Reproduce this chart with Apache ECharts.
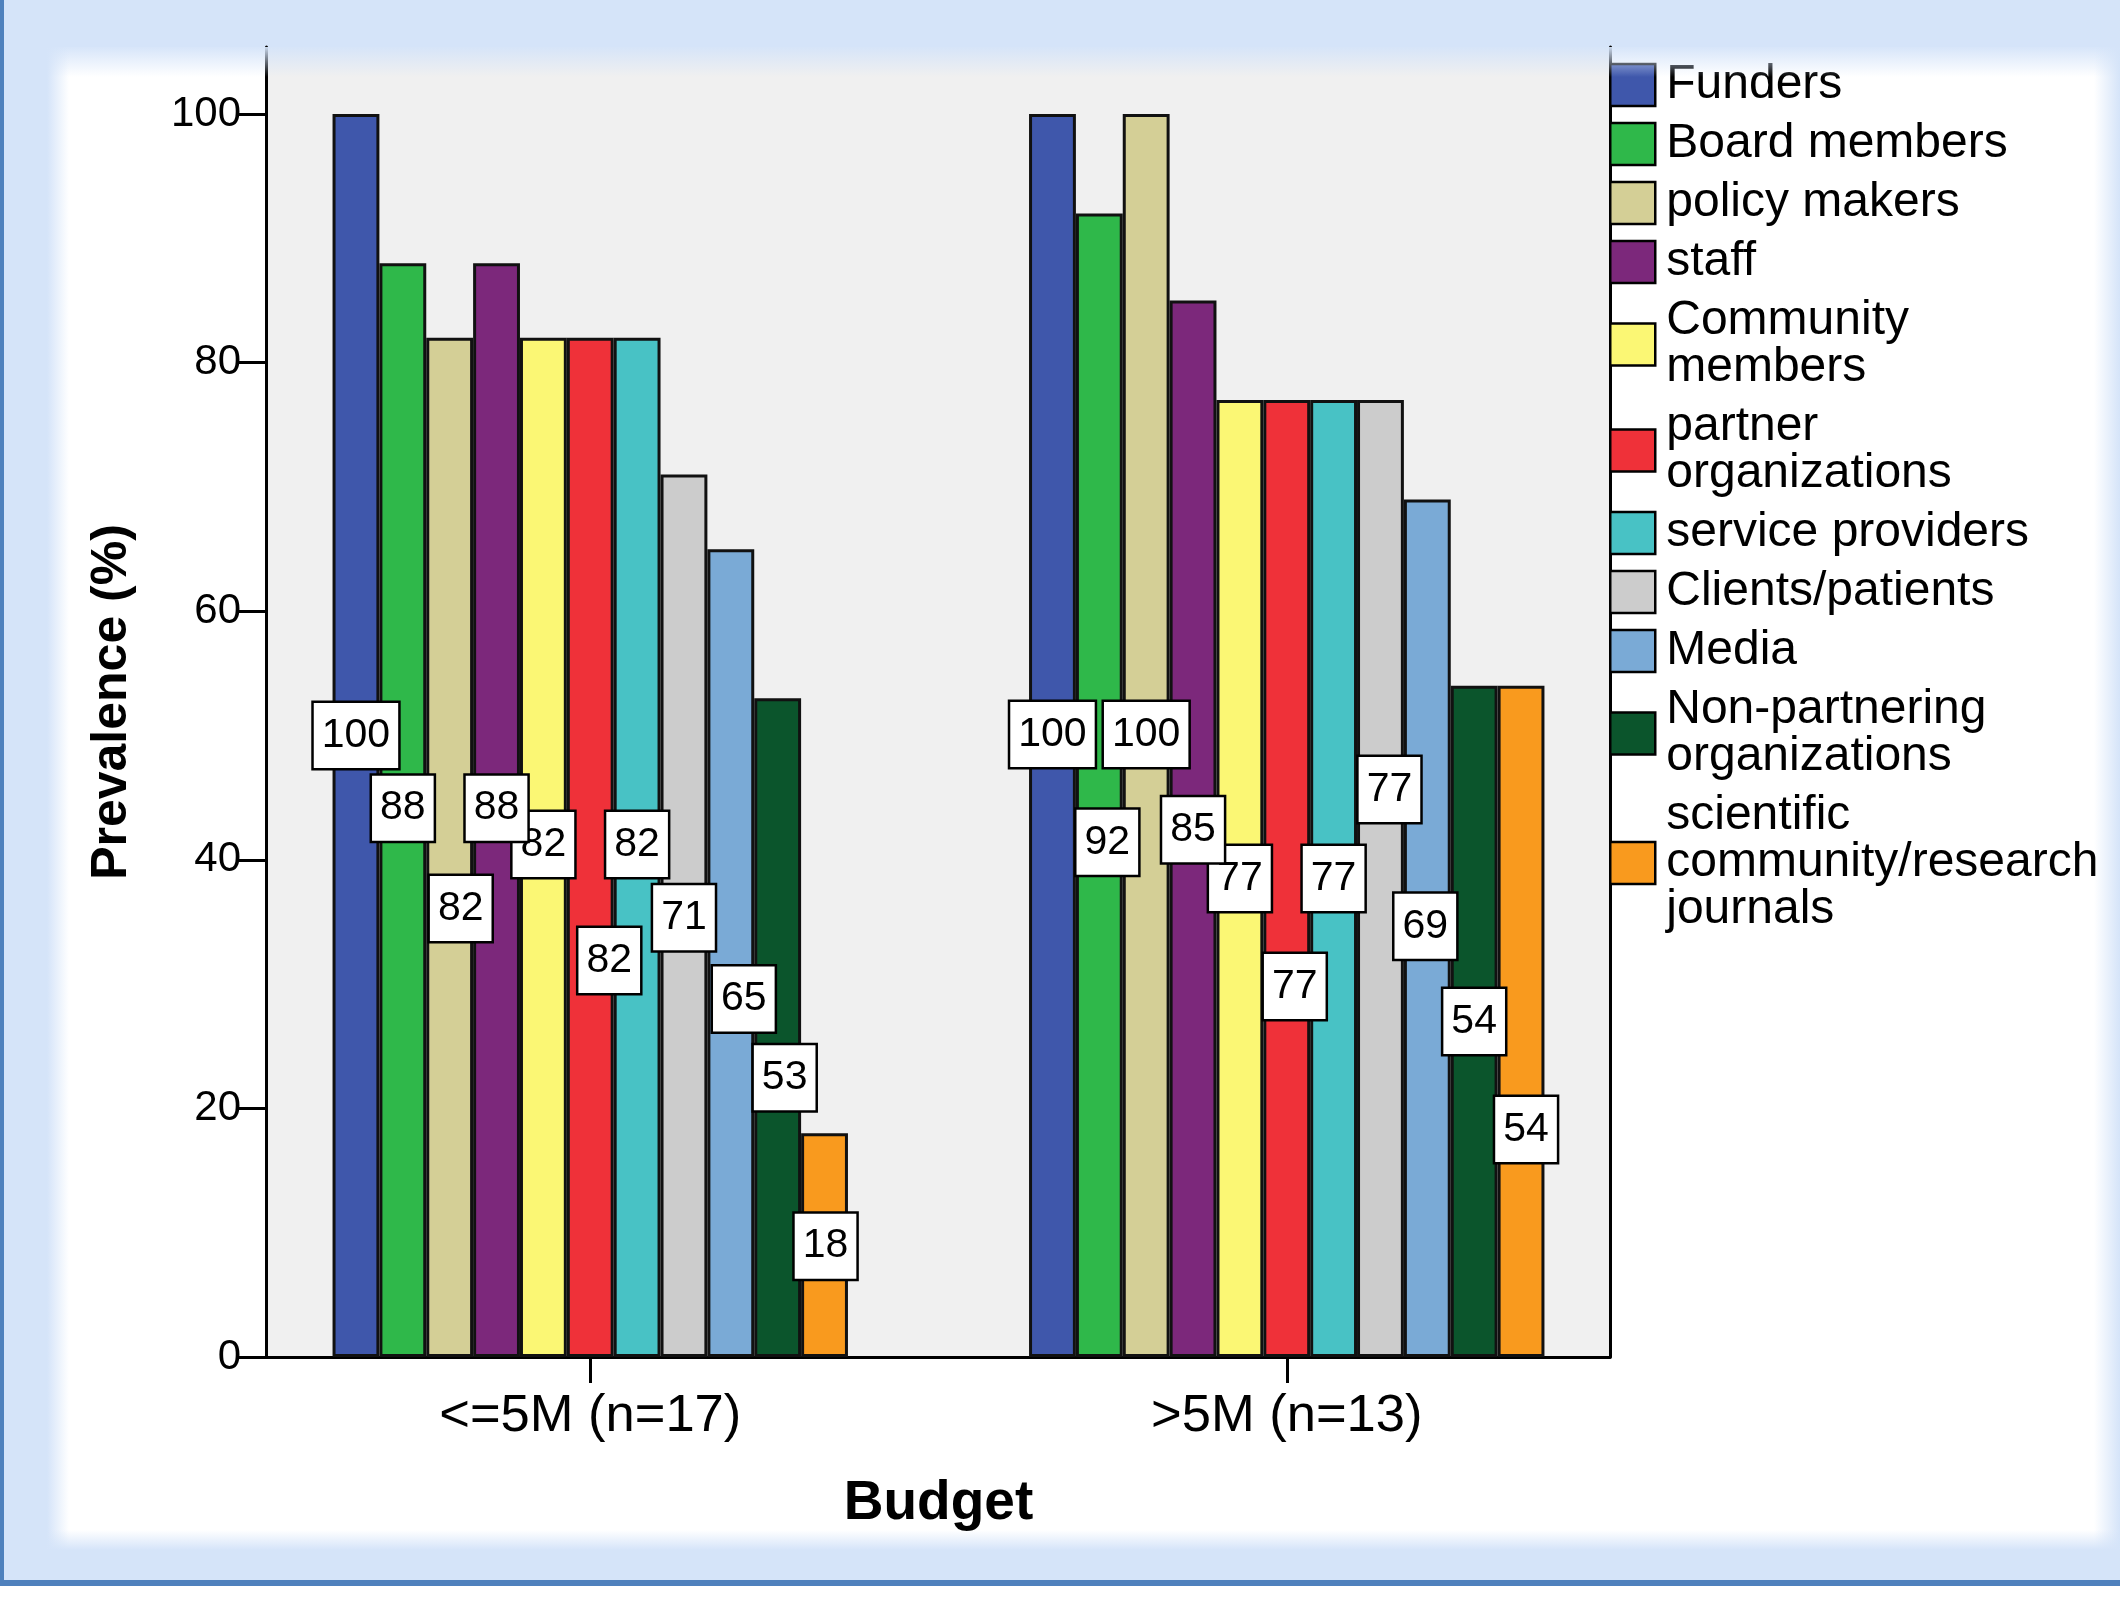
<!DOCTYPE html>
<html>
<head>
<meta charset="utf-8">
<script src="https://cdn.jsdelivr.net/npm/echarts@6/dist/echarts.min.js"></script>
<style>
  html, body { margin: 0; padding: 0; background: #ffffff; }
  #chart { width: 2120px; height: 1597px; }
</style>
</head>
<body>
<div id="chart"></div>
<script>
// Budget groups on the x axis
const budgetGroups = ['<=5M (n=17)', '>5M (n=13)'];

// Stakeholder groups (one bar per group in each budget class)
const stakeholders = [
  'Funders', 'Board members', 'policy makers', 'staff', 'Community members',
  'partner organizations', 'service providers', 'Clients/patients', 'Media',
  'Non-partnering organizations', 'scientific community/research journals'
];

// Prevalence (%) for each stakeholder: [<=5M, >5M]
const funders = [100, 100];
const boardMembers = [88, 92];
const policyMakers = [82, 100];
const staff = [88, 85];
const communityMembers = [82, 77];
const partnerOrganizations = [82, 77];
const serviceProviders = [82, 77];
const clientsPatients = [71, 77];
const media = [65, 69];
const nonPartneringOrganizations = [53, 54];
const scientificCommunity = [18, 54];

// Y axis tick values
const yTicks = [0, 20, 40, 60, 80, 100];

const seriesValues = [
  funders, boardMembers, policyMakers, staff, communityMembers,
  partnerOrganizations, serviceProviders, clientsPatients, media,
  nonPartneringOrganizations, scientificCommunity
];

// Legend text with line breaks
const legendText = [
  'Funders', 'Board members', 'policy makers', 'staff', 'Community\nmembers',
  'partner\norganizations', 'service providers', 'Clients/patients', 'Media',
  'Non-partnering\norganizations', 'scientific\ncommunity/research\njournals'
];

const palette = [
  '#3f57ab', '#2fb84a', '#d4cf96', '#7c287b', '#fbf774',
  '#ef3139', '#48c2c5', '#cccccc', '#7aaad6', '#0b552c', '#f99a1e'
];

// Value-box nudges [dx, dy] in px so the boxes do not collide: [<=5M, >5M]
const labelNudges = [
  [[0, 0], [0, -1]],
  [[0, -2], [8, 57]],
  [[11, 61], [0, -1]],
  [[0, -2], [0, 1]],
  [[0, -3], [0, 0]],
  [[19, 113], [8, 108]],
  [[0, -3], [0, 0]],
  [[0, 2], [9, -89]],
  [[13, 46], [-2, -2]],
  [[7, 50], [0, 0]],
  [[1, 1], [5, 108]]
];

const FONT = "'Liberation Sans', Arial, Helvetica, sans-serif";
const Y_MAX = 105.4;
const BLUE = '#d5e4f9';
const BLUE0 = 'rgba(213,228,249,0)';

const chart = echarts.init(document.getElementById('chart'), null, { renderer: 'canvas' });

const barSeries = stakeholders.map((name, i) => ({
  type: 'bar',
  name: name,
  xAxisIndex: 0,
  yAxisIndex: 0,
  data: seriesValues[i],
  barGap: '0%',
  barCategoryGap: '26%',
  z: 2,
  itemStyle: { color: palette[i], borderColor: '#111111', borderWidth: 3 },
  label: { show: false }
}));

// Transparent twin bars on an identical grid, carrying the value boxes above every bar
const labelSeries = stakeholders.map((name, i) => ({
  type: 'bar',
  id: 'values-' + i,
  xAxisIndex: 2,
  yAxisIndex: 3,
  silent: true,
  barGap: '0%',
  barCategoryGap: '26%',
  z: 40 - i,
  itemStyle: { color: 'rgba(0,0,0,0)', borderWidth: 0 },
  data: seriesValues[i].map((v, k) => ({
    value: v,
    label: { offset: labelNudges[i][k] }
  })),
  label: {
    show: true,
    position: 'inside',
    formatter: '{c}',
    color: '#000000',
    fontFamily: FONT,
    fontSize: 41,
    lineHeight: 41,
    backgroundColor: '#ffffff',
    borderColor: '#000000',
    borderWidth: 2.5,
    padding: [12, 8],
    textBorderWidth: 0
  }
}));

const option = {
  animation: false,
  textStyle: { fontFamily: FONT },
  graphic: {
    elements: [
      { type: 'rect', z: -20, shape: { x: 0, y: 0, width: 2120, height: 1586 }, style: { fill: BLUE } },
      { type: 'rect', z: -19, shape: { x: 0, y: 0, width: 4, height: 1586 }, style: { fill: '#4f81bd' } },
      { type: 'rect', z: -19, shape: { x: 0, y: 1580, width: 2120, height: 6 }, style: { fill: '#4f81bd' } },
      { type: 'rect', z: -18, shape: { x: 47, y: 47, width: 2073, height: 1503 }, style: { fill: '#ffffff' } },
      // soft edges of the inner panel
      { type: 'rect', z: 100, silent: true, shape: { x: 4, y: 47, width: 2116, height: 30 },
        style: { fill: { type: 'linear', x: 0, y: 0, x2: 0, y2: 1, colorStops: [{ offset: 0, color: 'rgba(213,228,249,0.95)' }, { offset: 1, color: BLUE0 }] } } },
      { type: 'rect', z: 100, silent: true, shape: { x: 47, y: 47, width: 22, height: 1503 },
        style: { fill: { type: 'linear', x: 0, y: 0, x2: 1, y2: 0, colorStops: [{ offset: 0, color: BLUE }, { offset: 1, color: BLUE0 }] } } },
      { type: 'rect', z: 100, silent: true, shape: { x: 2094, y: 47, width: 26, height: 1503 },
        style: { fill: { type: 'linear', x: 0, y: 0, x2: 1, y2: 0, colorStops: [{ offset: 0, color: BLUE0 }, { offset: 1, color: BLUE }] } } },
      { type: 'rect', z: 100, silent: true, shape: { x: 47, y: 1530, width: 2073, height: 20 },
        style: { fill: { type: 'linear', x: 0, y: 0, x2: 0, y2: 1, colorStops: [{ offset: 0, color: BLUE0 }, { offset: 1, color: BLUE }] } } }
    ]
  },
  legend: {
    data: stakeholders,
    orient: 'vertical',
    left: 1609,
    top: 61,
    padding: 0,
    itemWidth: 45,
    itemHeight: 42,
    itemGap: 11,
    icon: 'rect',
    selectedMode: false,
    itemStyle: { borderColor: '#000000', borderWidth: 2.5 },
    textStyle: { fontSize: 48, lineHeight: 47, color: '#000000', fontFamily: FONT, padding: [0, 0, 0, 6] },
    formatter: name => legendText[stakeholders.indexOf(name)]
  },
  grid: [
    { left: 242, top: 47, width: 1393, height: 1310 },
    { left: 266, top: 47, width: 1344, height: 1310, show: true, backgroundColor: '#f0f0f0', borderWidth: 0 },
    { left: 242, top: 47, width: 1393, height: 1310 }
  ],
  xAxis: [
    {
      gridIndex: 0,
      type: 'category',
      data: budgetGroups,
      axisLine: { show: false },
      axisTick: { show: true, alignWithLabel: true, length: 26, lineStyle: { color: '#000000', width: 3 } },
      axisLabel: { fontSize: 52.5, color: '#000000', margin: 33, fontFamily: FONT },
      name: 'Budget',
      nameLocation: 'middle',
      nameGap: 119,
      nameTextStyle: { fontSize: 55, fontWeight: 'bold', color: '#000000', fontFamily: FONT }
    },
    {
      gridIndex: 1,
      type: 'value',
      min: 0,
      max: 1,
      axisLine: { show: true, lineStyle: { color: '#000000', width: 3 } },
      axisTick: { show: false },
      axisLabel: { show: false },
      splitLine: { show: false }
    },
    {
      gridIndex: 2,
      type: 'category',
      data: budgetGroups,
      show: false
    }
  ],
  yAxis: [
    { gridIndex: 0, type: 'value', min: 0, max: Y_MAX, show: false },
    {
      gridIndex: 1,
      type: 'value',
      min: 0,
      max: Y_MAX,
      axisLine: { show: true, lineStyle: { color: '#000000', width: 3 } },
      axisTick: { show: true, length: 27, customValues: yTicks, lineStyle: { color: '#000000', width: 3 } },
      axisLabel: { customValues: yTicks, fontSize: 42, color: '#000000', margin: 25, fontFamily: FONT },
      splitLine: { show: false },
      name: 'Prevalence (%)',
      nameLocation: 'middle',
      nameRotate: 90,
      nameGap: 129,
      nameTextStyle: { fontSize: 50, fontWeight: 'bold', color: '#000000', fontFamily: FONT }
    },
    {
      gridIndex: 1,
      type: 'value',
      position: 'right',
      min: 0,
      max: Y_MAX,
      axisLine: { show: true, lineStyle: { color: '#000000', width: 3 } },
      axisTick: { show: false },
      axisLabel: { show: false },
      splitLine: { show: false }
    },
    { gridIndex: 2, type: 'value', min: 0, max: Y_MAX, show: false }
  ],
  series: barSeries.concat(labelSeries)
};

chart.setOption(option);
</script>
</body>
</html>
